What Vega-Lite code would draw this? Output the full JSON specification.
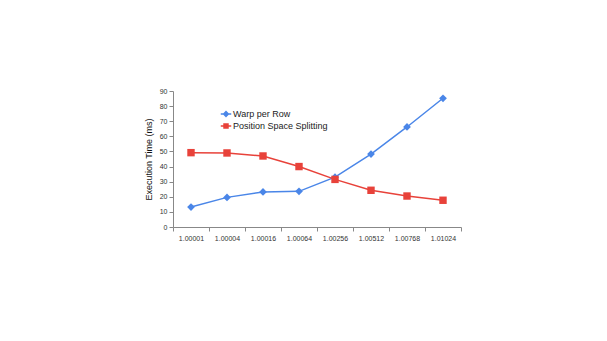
{
  "$schema": "https://vega.github.io/schema/vega-lite/v6.json",
  "width": 288,
  "height": 136,
  "autosize": {"type": "none"},
  "padding": {"left": 173, "top": 91, "right": 146, "bottom": 114},
  "background": "white",
  "config": {"view": {"stroke": null}, "font": "Liberation Sans"},
  "data": {"values": [
    {"x": "1.00001", "series": "Warp per Row", "t": 13.2},
    {"x": "1.00004", "series": "Warp per Row", "t": 19.6},
    {"x": "1.00016", "series": "Warp per Row", "t": 23.2},
    {"x": "1.00064", "series": "Warp per Row", "t": 23.6},
    {"x": "1.00256", "series": "Warp per Row", "t": 33.0},
    {"x": "1.00512", "series": "Warp per Row", "t": 48.3},
    {"x": "1.00768", "series": "Warp per Row", "t": 66.2},
    {"x": "1.01024", "series": "Warp per Row", "t": 85.2},
    {"x": "1.00001", "series": "Position Space Splitting", "t": 49.2},
    {"x": "1.00004", "series": "Position Space Splitting", "t": 49.0},
    {"x": "1.00016", "series": "Position Space Splitting", "t": 47.0},
    {"x": "1.00064", "series": "Position Space Splitting", "t": 40.0},
    {"x": "1.00256", "series": "Position Space Splitting", "t": 31.5},
    {"x": "1.00512", "series": "Position Space Splitting", "t": 24.3},
    {"x": "1.00768", "series": "Position Space Splitting", "t": 20.5},
    {"x": "1.01024", "series": "Position Space Splitting", "t": 17.7}
  ]},
  "encoding": {
    "x": {"field": "x", "type": "ordinal", "sort": null,
      "scale": {"paddingInner": 0, "paddingOuter": 0},
      "axis": {"title": null, "labelAngle": 0, "labelFontSize": 7, "labelColor": "#333",
        "tickBand": "extent", "tickSize": 4, "domainColor": "#888", "tickColor": "#888", "labelPadding": 3}},
    "y": {"field": "t", "type": "quantitative",
      "scale": {"domain": [0, 90]},
      "axis": {"title": "Execution Time (ms)", "values": [0,10,20,30,40,50,60,70,80,90], "grid": false,
        "labelFontSize": 7, "labelColor": "#333", "titleFontSize": 9, "titleFontWeight": "normal", "titleColor": "#111",
        "tickSize": 4, "domainColor": "#888", "tickColor": "#888", "titlePadding": 6}},
    "color": {"field": "series", "type": "nominal",
      "scale": {"domain": ["Warp per Row", "Position Space Splitting"], "range": ["#4a86e8", "#e8423a"]},
      "legend": {"title": null, "orient": "none", "legendX": 47, "legendY": 17, "labelFontSize": 9, "labelColor": "#222",
        "symbolSize": 110, "rowPadding": -2, "labelOffset": 1,
        "encode": {"symbols": {"update": {
          "shape": {"signal": "datum.value === 'Warp per Row' ? 'M-1,0L1,0M-0.45,0L0,-0.45L0.45,0L0,0.45Z' : 'M-1,0L1,0M-0.38,-0.38L0.38,-0.38L0.38,0.38L-0.38,0.38Z'"},
          "stroke": {"signal": "datum.value === 'Warp per Row' ? '#4a86e8' : '#e8423a'"},
          "fill": {"signal": "datum.value === 'Warp per Row' ? '#4a86e8' : '#e8423a'"},
          "strokeWidth": {"value": 1.5}
        }}}}}
  },
  "layer": [
    {"mark": {"type": "line", "strokeWidth": 1.5}},
    {"transform": [{"filter": "datum.series === 'Warp per Row'"}],
     "mark": {"type": "point", "filled": true, "opacity": 1, "shape": "diamond", "size": 60}},
    {"transform": [{"filter": "datum.series === 'Position Space Splitting'"}],
     "mark": {"type": "point", "filled": true, "opacity": 1, "shape": "square", "size": 55}}
  ]
}
